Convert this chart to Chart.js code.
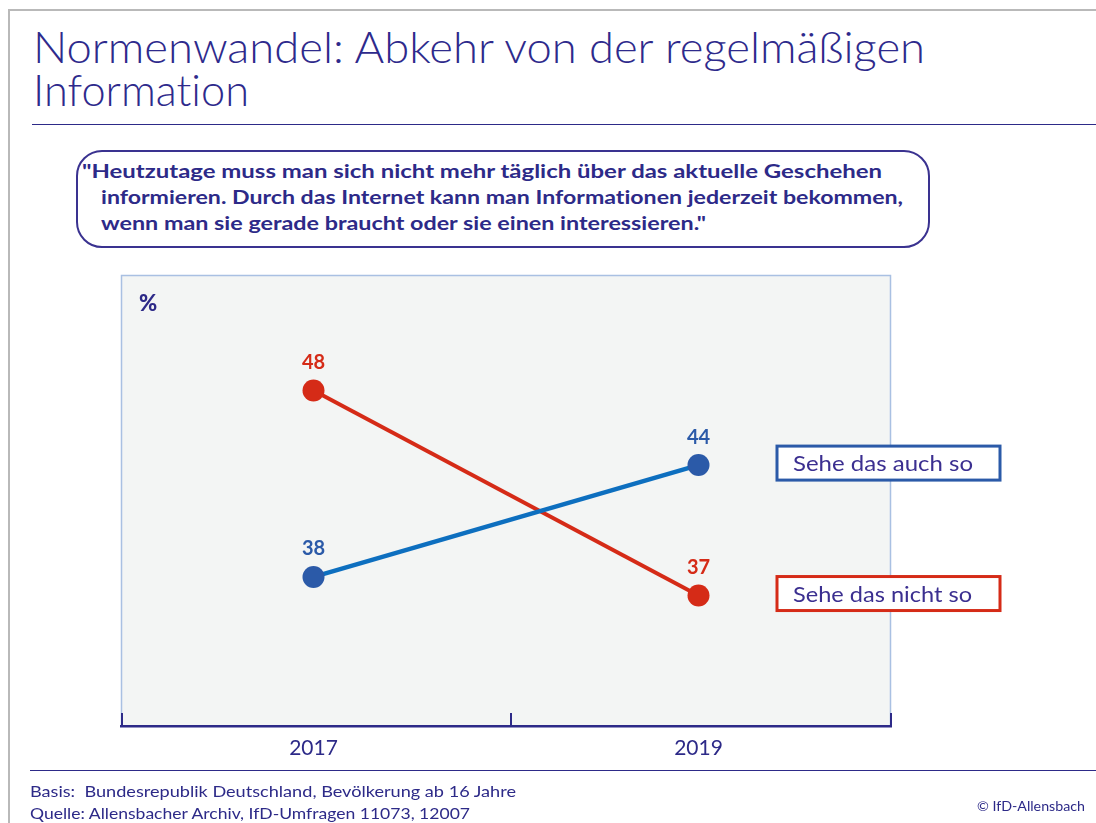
<!DOCTYPE html>
<html><head><meta charset="utf-8">
<script src="https://cdn.jsdelivr.net/npm/chart.js@4.4.0/dist/chart.umd.min.js"></script>
<style>
html,body{margin:0;padding:0;background:#fff;}
body{width:1096px;height:823px;position:relative;overflow:hidden;font-family:Lato,"Open Sans",sans-serif;color:#2d2a88;font-variant-ligatures:none;}
.frameTop{position:absolute;left:8px;top:9px;width:1088px;height:2px;background:#b9b9b9;}
.frameLeft{position:absolute;left:8px;top:9px;width:2px;height:814px;background:#b9b9b9;}
.rule{position:absolute;height:1px;background:#2d2a88;}
.t{position:absolute;white-space:nowrap;transform-origin:0 0;line-height:1;}
.title{font-weight:300;font-size:44px;color:#2e2a8c;}
.quote{position:absolute;left:76px;top:150px;width:854px;height:98px;box-sizing:border-box;border:2px solid #3a3290;border-radius:26px;}
canvas{position:absolute;left:0;top:0;}
</style></head><body>
<div class="frameTop"></div><div class="frameLeft"></div>
<div class="t title" data-w="892" style="left:33px;top:24px;">Normenwandel: Abkehr von der regelmäßigen</div>
<div class="t title" data-w="216" style="left:33px;top:67px;">Information</div>
<div class="rule" style="left:32px;top:124px;width:1064px;"></div>
<div class="quote"></div>
<div class="t" data-w="800" style="left:82px;top:162px;font-size:18px;font-weight:bold;">"Heutzutage muss man sich nicht mehr täglich über das aktuelle Geschehen</div>
<div class="t" data-w="802" style="left:101px;top:188px;font-size:18px;font-weight:bold;">informieren. Durch das Internet kann man Informationen jederzeit bekommen,</div>
<div class="t" data-w="605" style="left:101px;top:214px;font-size:18px;font-weight:bold;">wenn man sie gerade braucht oder sie einen interessieren."</div>
<canvas id="c" width="1096" height="823"></canvas>
<div class="rule" style="left:30px;top:770px;width:1066px;"></div>
<div class="t" data-w="486" style="left:30px;top:784px;font-size:15px;">Basis:&nbsp; Bundesrepublik Deutschland, Bevölkerung ab 16 Jahre</div>
<div class="t" data-w="440" style="left:30px;top:806px;font-size:15px;">Quelle: Allensbacher Archiv, IfD-Umfragen 11073, 12007</div>
<div class="t" data-w="108" data-r="1085" style="left:977px;top:800px;font-size:13px;">© IfD-Allensbach</div>
<script>
// ---- data ----
const years = ['2017', '2019'];
const seheAuch = [38, 44];
const seheNicht = [48, 37];
const seriesNames = ['Sehe das auch so', 'Sehe das nicht so'];
const yMin = 30, yMax = 54.2;

const DARK = '#2d2a88';
const BLUE_LINE = '#0d6fbf', BLUE_PT = '#2b5aa8';
const RED = '#d52b17';

// fit text widths
document.querySelectorAll('.t[data-w]').forEach(el => {
  const w = el.getBoundingClientRect().width;
  const target = +el.dataset.w;
  el.style.transform = 'scaleX(' + (target / w) + ')';
  if (el.dataset.r) el.style.left = (+el.dataset.r - target) + 'px';
});

const decor = {
  id: 'decor',
  beforeDraw(chart) {
    const {ctx, chartArea: a} = chart;
    ctx.save();
    ctx.fillStyle = '#f3f5f4';
    ctx.fillRect(a.left, a.top, a.right - a.left, a.bottom - a.top);
    ctx.strokeStyle = '#a9c0e2';
    ctx.lineWidth = 1.5;
    ctx.beginPath();
    ctx.moveTo(a.left + 0.5, a.bottom);
    ctx.lineTo(a.left + 0.5, a.top + 0.5);
    ctx.lineTo(a.right - 0.5, a.top + 0.5);
    ctx.lineTo(a.right - 0.5, a.bottom);
    ctx.stroke();
    ctx.fillStyle = DARK;
    ctx.font = '900 22px Lato, sans-serif';
    ctx.textAlign = 'left';
    ctx.textBaseline = 'middle';
    ctx.fillText('%', a.left + 18, a.top + 29);
    ctx.restore();
  },
  afterDraw(chart) {
    const {ctx, chartArea: a} = chart;
    const xs = chart.scales.x;
    ctx.save();
    // boundary tick marks
    const p0 = xs.getPixelForValue(0), p1 = xs.getPixelForValue(1);
    const bounds = [a.left + 1, (p0 + p1) / 2 + 5, a.right];
    ctx.strokeStyle = DARK;
    ctx.lineWidth = 2;
    bounds.forEach(b => {
      ctx.beginPath();
      ctx.moveTo(b, a.bottom);
      ctx.lineTo(b, a.bottom - 13);
      ctx.stroke();
    });
    // value labels
    ctx.font = 'bold 20px Lato, sans-serif';
    ctx.textAlign = 'center';
    ctx.textBaseline = 'middle';
    chart.data.datasets.forEach((ds, i) => {
      const meta = chart.getDatasetMeta(i);
      ctx.fillStyle = ds.labelColor;
      meta.data.forEach((pt, j) => {
        ctx.fillText(String(ds.data[j]), pt.x, pt.y - 28);
      });
    });
    // legend boxes
    ctx.font = '22px Lato, sans-serif';
    ctx.textAlign = 'left';
    chart.data.datasets.forEach((ds, i) => {
      const meta = chart.getDatasetMeta(i);
      const last = meta.data[meta.data.length - 1];
      const cy = last.y - 2;
      const bx = a.right - 114, bw = 223, bh = 34;
      ctx.fillStyle = '#ffffff';
      ctx.fillRect(bx, cy - bh / 2, bw, bh);
      ctx.strokeStyle = ds.boxColor;
      ctx.lineWidth = 3;
      ctx.strokeRect(bx, cy - bh / 2, bw, bh);
      ctx.fillStyle = '#3b2f90';
      const tw = ctx.measureText(ds.label).width;
      const target = i === 0 ? 180 : 179;
      ctx.save();
      ctx.translate(bx + 16, cy + 1);
      ctx.scale(target / tw, 1);
      ctx.fillText(ds.label, 0, 0);
      ctx.restore();
    });
    ctx.restore();
  }
};

new Chart(document.getElementById('c'), {
  type: 'line',
  data: {
    labels: years,
    datasets: [
      {
        label: seriesNames[0], data: seheAuch,
        borderColor: BLUE_LINE, borderWidth: 4.5,
        pointBackgroundColor: BLUE_PT, pointBorderColor: BLUE_PT,
        pointRadius: 11, pointBorderWidth: 0,
        labelColor: BLUE_PT, boxColor: BLUE_PT
      },
      {
        label: seriesNames[1], data: seheNicht,
        borderColor: RED, borderWidth: 4,
        pointBackgroundColor: RED, pointBorderColor: RED,
        pointRadius: 11, pointBorderWidth: 0,
        labelColor: RED, boxColor: RED
      }
    ]
  },
  options: {
    responsive: false,
    devicePixelRatio: 1,
    animation: false,
    clip: false,
    layout: {padding: {left: 121, right: 205, top: 275, bottom: 0}},
    plugins: {legend: {display: false}, tooltip: {enabled: false}},
    scales: {
      x: {
        type: 'category',
        offset: true,
        grid: {display: true, drawOnChartArea: false, drawTicks: false, color: 'rgba(0,0,0,0)'},
        border: {display: true, color: DARK, width: 2.5},
        ticks: {color: DARK, font: {family: 'Lato', size: 21, weight: 400}, padding: 10},
        afterFit(s) { s.height = 97; }
      },
      y: {display: false, min: yMin, max: yMax}
    }
  },
  plugins: [decor]
});
</script>
</body></html>
